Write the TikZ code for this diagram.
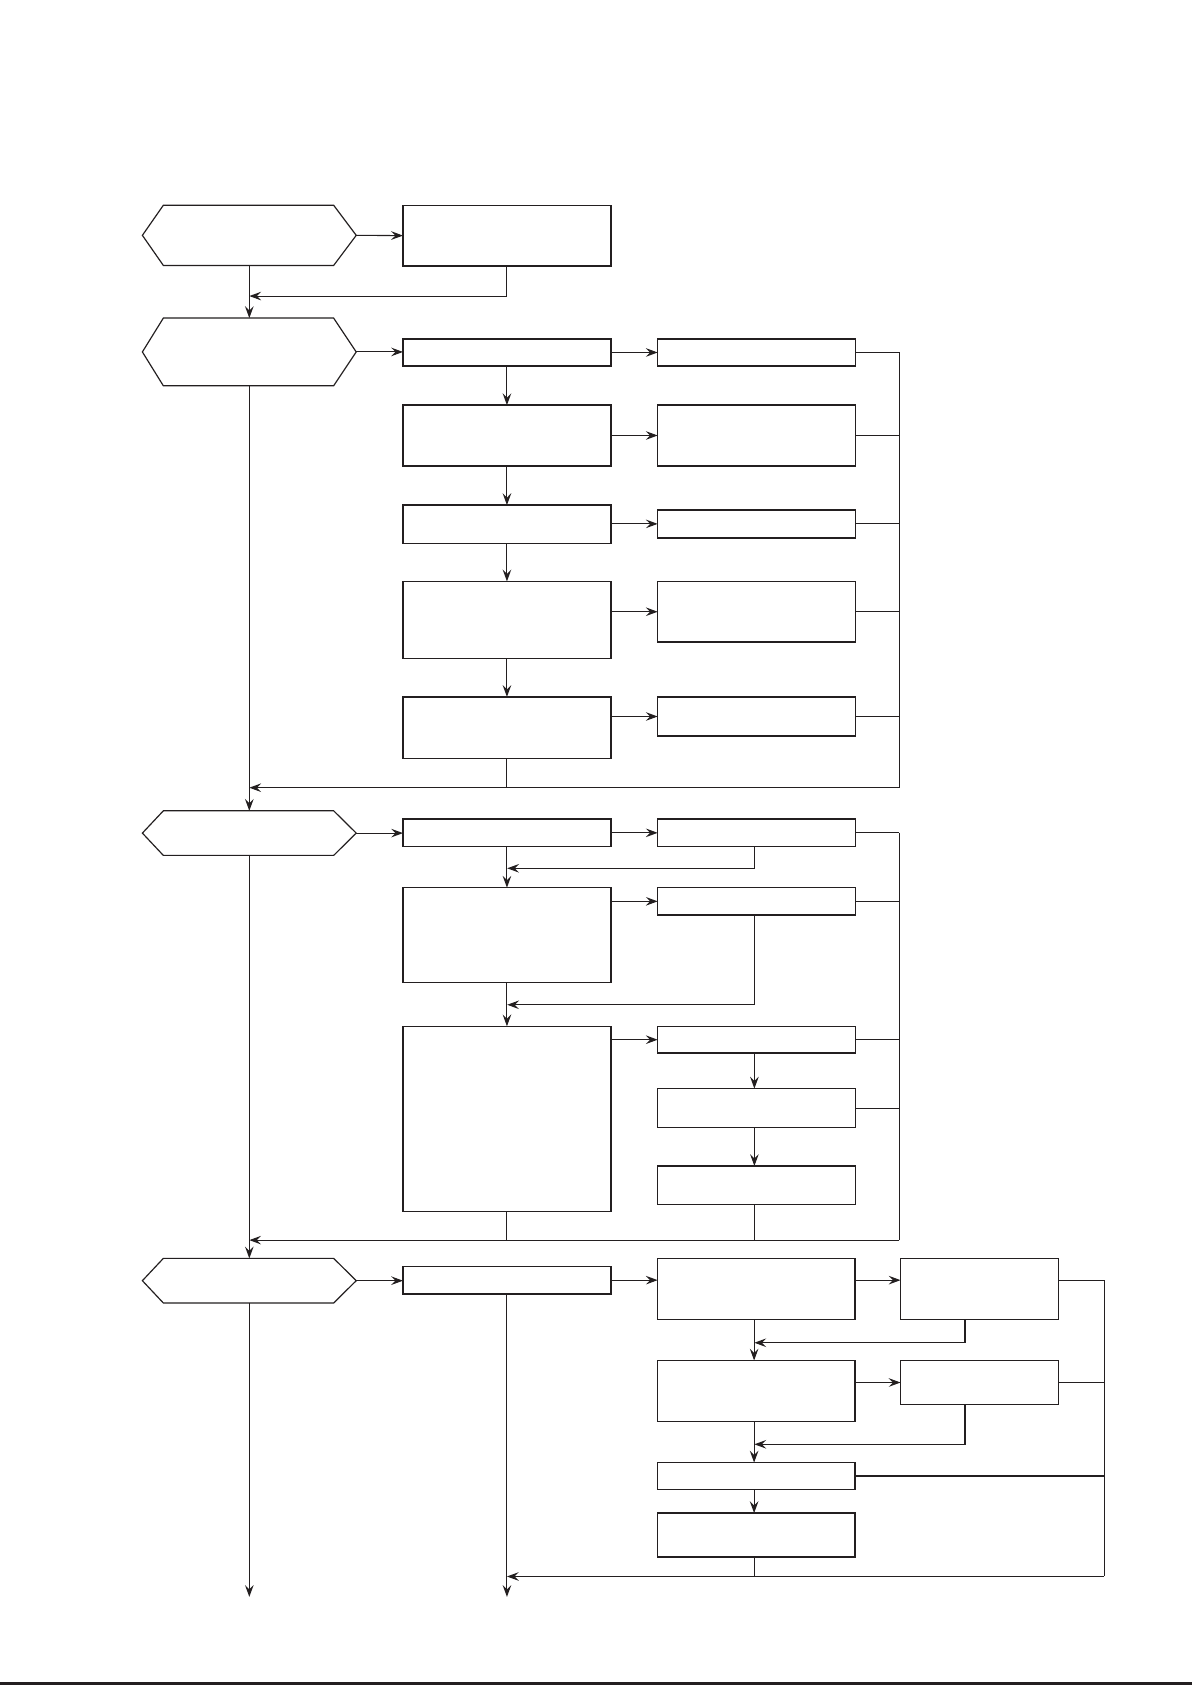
\documentclass[tikz,border=0pt]{standalone}
\usetikzlibrary{arrows.meta}
\definecolor{ink}{RGB}{35,31,32}
\tikzset{
  bx/.style={draw=ink, line width=1.25pt, inner sep=0pt, outer sep=0pt},
  hexn/.style={draw=none, inner sep=0pt, outer sep=0pt},
  hexline/.style={draw=ink, line width=1.1pt, line join=miter},
  ln/.style={draw=ink, line width=1pt},
  arr/.style={ln, -{Stealth[length=11pt,width=8pt,inset=4pt]}},
}
\newcommand{\mybox}[5]{\node[bx, minimum width={#4-#2}, minimum height={#5-#3}] (#1) at ({(#2+#4)/2},{(#3+#5)/2}) {};}
\newcommand{\myhex}[5]{\node[hexn, minimum width={#4-#2}, minimum height={#5-#3}] (#1) at ({(#2+#4)/2},{(#3+#5)/2}) {};
  \draw[hexline] (#1.west) -- ([xshift=19.5pt]#1.north west) -- ([xshift=-21pt]#1.north east) -- (#1.east) -- ([xshift=-21pt]#1.south east) -- ([xshift=19.5pt]#1.south west) -- cycle;}
\begin{document}
\begin{tikzpicture}[x=1pt,y=-1pt]
\useasboundingbox (0,0) rectangle (1109,1568);
\fill[white] (0,0) rectangle (1109,1568);

% ---------- section 1
\myhex{H1}{132.5}{191}{331.5}{247}
\mybox{A}{375}{191}{568.5}{247.5}
% ---------- section 2
\myhex{H2}{132.5}{296}{331.5}{359}
\mybox{B1}{375}{315.5}{568.5}{340.5}
\mybox{C1}{612}{315.5}{796}{340.5}
\mybox{B2}{375}{377}{568.5}{433.5}
\mybox{C2}{612}{377}{796}{433.5}
\mybox{B3}{375}{470}{568.5}{505.5}
\mybox{C3}{612}{474.5}{796}{500.5}
\mybox{B4}{375}{541}{568.5}{613}
\mybox{C4}{612}{541}{796}{597.5}
\mybox{B5}{375}{648.5}{568.5}{706}
\mybox{C5}{612}{648.5}{796}{685}
% ---------- section 3
\myhex{H3}{132.5}{754.5}{331.5}{796}
\mybox{D1}{375}{762}{568.5}{788}
\mybox{E1}{612}{762}{796}{788}
\mybox{D2}{375}{826}{568.5}{914.5}
\mybox{E2}{612}{826}{796}{851.5}
\mybox{D3}{375}{955}{568.5}{1127.5}
\mybox{E3}{612}{955}{796}{980}
\mybox{E4}{612}{1013}{796}{1049.5}
\mybox{E5}{612}{1085}{796}{1121}
% ---------- section 4
\myhex{H4}{132.5}{1171}{331.5}{1212.5}
\mybox{F1}{375}{1178.5}{568.5}{1204}
\mybox{G1}{612}{1171}{795.5}{1228}
\mybox{K1}{838}{1171}{985}{1228}
\mybox{G2}{612}{1266}{795.5}{1323}
\mybox{K2}{838}{1266}{985}{1307}
\mybox{G3}{612}{1361}{795.5}{1386}
\mybox{G4}{612}{1408}{795.5}{1449}

% ---------- coordinates
\coordinate (j1) at (232,275.5);
\coordinate (k2) at (837,0);
\coordinate (r2) at (232,733);
\coordinate (s1) at (472,808);
\coordinate (s2) at (472,935);
\coordinate (r3) at (232,1154);
\coordinate (k4) at (1027.5,0);
\coordinate (x898) at (898,0);
\coordinate (t1) at (702,1249.5);
\coordinate (t2) at (702,1344);
\coordinate (b4) at (0,1467);
\coordinate (e4) at (0,1486);

% ---------- section 1 connectors
\draw[arr] (H1.east) -- (A.west);
\draw[arr] (A.south) |- (j1);
\draw[arr] (H1.south) -- (H2.north);

% ---------- section 2 connectors
\draw[arr] (H2.east) -- (H2.east -| B1.west);
\draw[arr] (B1.east) -- (C1.west);
\draw[arr] (B2.east) -- (C2.west);
\draw[arr] (B3.east |- C3.west) -- (C3.west);
\draw[arr] (B4.east |- C4.west) -- (C4.west);
\draw[arr] (B5.east |- C5.west) -- (C5.west);
\draw[arr] (B1.south) -- (B2.north);
\draw[arr] (B2.south) -- (B3.north);
\draw[arr] (B3.south) -- (B4.north);
\draw[arr] (B4.south) -- (B5.north);
\foreach \n in {C1,C2,C3,C4,C5}{\draw[ln] (\n.east) -- (\n.east -| k2);}
\draw[ln] (C1.east -| k2) -- (k2 |- r2);
\draw[arr] (k2 |- r2) -- (r2);
\draw[ln] (B5.south) -- (B5.south |- r2);
\draw[arr] (H2.south) -- (H3.north);

% ---------- section 3 connectors
\draw[arr] (H3.east) -- (H3.east -| D1.west);
\draw[arr] (D1.east) -- (E1.west);
\draw[arr] ([xshift=-2pt]E1.south) |- (s1);
\draw[arr] (D1.south) -- (D2.north);
\draw[arr] (D2.east |- E2.west) -- (E2.west);
\draw[arr] ([xshift=-2pt]E2.south) |- (s2);
\draw[arr] (D2.south) -- (D3.north);
\draw[arr] (D3.east |- E3.west) -- (E3.west);
\draw[arr] ([xshift=-2pt]E3.south) -- ([xshift=-2pt]E4.north);
\draw[arr] ([xshift=-2pt]E4.south) -- ([xshift=-2pt]E5.north);
\foreach \n in {E1,E2,E3,E4}{\draw[ln] (\n.east) -- (\n.east -| k2);}
\draw[ln] (E1.east -| k2) -- (k2 |- r3);
\draw[arr] (k2 |- r3) -- (r3);
\draw[ln] (D3.south) -- (D3.south |- r3);
\draw[ln] ([xshift=-2pt]E5.south) -- ([xshift=-2pt]E5.south |- r3);
\draw[arr] (H3.south) -- (H4.north);

% ---------- section 4 connectors
\draw[arr] (H4.east) -- (H4.east -| F1.west);
\draw[arr] (F1.east) -- (F1.east -| G1.west);
\draw[arr] (G1.east |- F1.east) -- (K1.west |- F1.east);
\draw[ln] (K1.east |- F1.east) -- (k4 |- F1.east);
\draw[arr] (K1.south -| x898) |- (t1);
\draw[arr] ([xshift=-2pt]G1.south) -- ([xshift=-2pt]G2.north);
\draw[arr] (G2.east |- K2.west) -- (K2.west);
\draw[ln] (K2.east) -- (K2.east -| k4);
\draw[arr] (K2.south -| x898) |- (t2);
\draw[arr] ([xshift=-2pt]G2.south) -- ([xshift=-2pt]G3.north);
\draw[ln] (G3.east) -- (G3.east -| k4);
\draw[arr] ([xshift=-2pt]G3.south) -- ([xshift=-2pt]G4.north);
\draw[ln] ([xshift=-2pt]G4.south) -- ([xshift=-2pt]G4.south |- b4);
\draw[ln] (k4 |- F1.east) -- (k4 |- b4);
\draw[arr] (k4 |- b4) -- (F1.south |- b4);
\draw[arr] (F1.south) -- (F1.south |- e4);
\draw[arr] (H4.south) -- (H4.south |- e4);

% ---------- bottom rule
\draw[ink, line width=2.6pt] (0,1566.5) -- (1109,1566.5);
\end{tikzpicture}
\end{document}
